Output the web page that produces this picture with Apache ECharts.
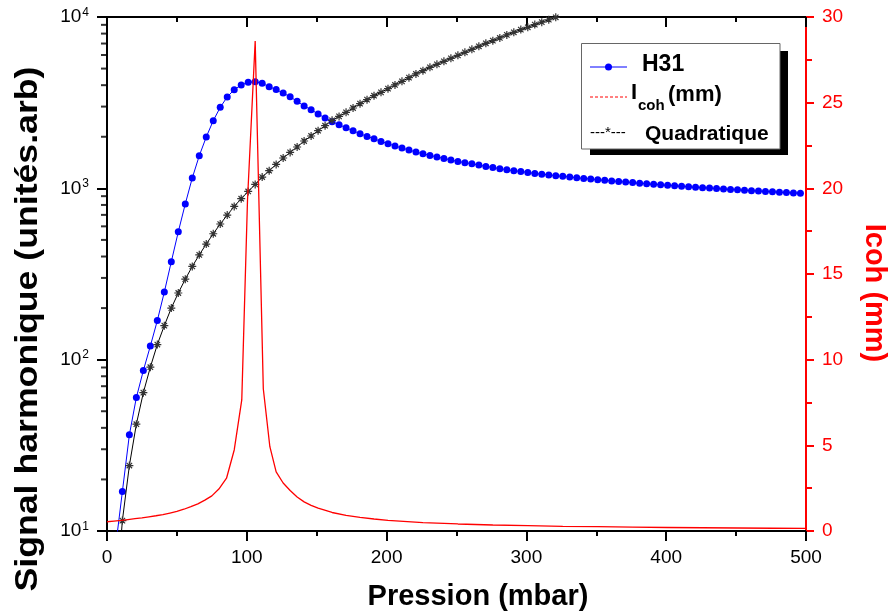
<!DOCTYPE html>
<html><head><meta charset="utf-8">
<script src="https://cdn.jsdelivr.net/npm/echarts@6/dist/echarts.min.js"></script>
<style>html,body{margin:0;padding:0;background:#fff}#c{width:890px;height:615px}</style>
</head><body><div id="c"></div>
<script>
const FONT = "'Liberation Sans', Arial, sans-serif";

// H31 harmonic signal (arb. units), log scale
const h31X = [6,11,16,21,26,31,36,41,46,51,56,61,66,71,76,81,86,91,96,101,106,111,116,121,126,131,136,141,146,151,156,161,166,171,176,181,186,191,196,201,206,211,216,221,226,231,236,241,246,251,256,261,266,271,276,281,286,291,296,301,306,311,316,321,326,331,336,341,346,351,356,361,366,371,376,381,386,391,396,401,406,411,416,421,426,431,436,441,446,451,456,461,466,471,476,481,486,491,496];
const h31Y = [7.9,17.0,36.4,60.1,86.4,120,169,248,373,558,811,1149,1550,1993,2483,2969,3415,3766,4012,4155,4195,4100,3922,3770,3600,3420,3218,3025,2879,2716,2574,2449,2352,2259,2170,2084,2010,1949,1879,1822,1766,1719,1674,1629,1592,1557,1523,1495,1463,1436,1411,1392,1368,1342,1324,1302,1284,1267,1255,1238,1222,1210,1198,1186,1175,1164,1153,1143,1133,1124,1114,1105,1096,1088,1080,1072,1064,1056,1049,1042,1035,1028,1021,1015,1009,1003,997,991,985,980,974,969,964,959,954,949,944,940,935];

// Quadratique
const quadX = [6,11,16,21,26,31,36,41,46,51,56,61,66,71,76,81,86,91,96,101,106,111,116,121,126,131,136,141,146,151,156,161,166,171,176,181,186,191,196,201,206,211,216,221,226,231,236,241,246,251,256,261,266,271,276,281,286,291,296,301,306,311,316,321,326,331];
const quadY = [3.5,11.5,24.1,42.0,64.2,90.4,122.5,158,200,245,295,350,409,473,543,619,698,784,870,959,1054,1164,1267,1379,1503,1621,1743,1889,2021,2170,2321,2493,2630,2776,2944,3120,3293,3474,3633,3818,4012,4211,4426,4651,4863,5084,5293,5510,5738,5973,6219,6476,6743,7021,7279,7549,7860,8141,8441,8707,9029,9330,9640,9960,10290,10630];

// Icoh (mm), right axis
const icohX = [0,5,10,15,20,25,30,35,40,45,50,55,60,65,70,75,80,85.5,91,96.4,100.5,106,111.8,116.5,121,126,131,136,141,146,151,161,171,181,191,201,226,251,276,301,326,351,376,401,426,451,476,500];
const icohY = [0.54,0.58,0.62,0.67,0.72,0.77,0.83,0.89,0.96,1.05,1.14,1.27,1.42,1.58,1.80,2.05,2.45,3.08,4.73,7.65,19.3,28.6,8.3,4.92,3.45,2.8,2.36,1.98,1.70,1.50,1.33,1.08,0.91,0.79,0.70,0.62,0.49,0.41,0.35,0.31,0.275,0.25,0.225,0.205,0.19,0.175,0.16,0.15];

// log-axis minor tick values
const logMinorTicks = [20,30,40,50,60,70,80,90,200,300,400,500,600,700,800,900,2000,3000,4000,5000,6000,7000,8000,9000];

const zip = (xs, ys) => xs.map((x, i) => [x, ys[i]]);
const STAR = 'path://M5,0L5,10M0,5L10,5M1.6,1.6L8.4,8.4M8.4,1.6L1.6,8.4';

const chart = echarts.init(document.getElementById('c'), null, {renderer: 'canvas'});
chart.setOption({
  animation: false,
  backgroundColor: '#fff',
  grid: {left: 107, right: 84, top: 17, bottom: 84},
  xAxis: [{
    type: 'value', min: 0, max: 500, interval: 100, position: 'bottom',
    axisLine: {onZero: false, lineStyle: {color: '#000', width: 2}},
    axisTick: {length: 10, lineStyle: {color: '#000', width: 2}},
    minorTick: {show: true, splitNumber: 2, length: 5, lineStyle: {color: '#000', width: 2}},
    axisLabel: {color: '#000', fontSize: 19, fontFamily: FONT, margin: 17},
    splitLine: {show: false}
  }, {
    type: 'value', min: 0, max: 500, interval: 100, position: 'top',
    axisLine: {onZero: false, lineStyle: {color: '#000', width: 2}},
    axisTick: {inside: true, length: 10, lineStyle: {color: '#000', width: 2}},
    minorTick: {show: true, splitNumber: 2, length: 5, lineStyle: {color: '#000', width: 2}},
    axisLabel: {show: false},
    splitLine: {show: false}
  }],
  yAxis: [{
    type: 'log', logBase: 10, min: 10, max: 10000, position: 'left',
    axisLine: {show: true, onZero: false, lineStyle: {color: '#000', width: 2}},
    axisTick: {show: true, length: 10, lineStyle: {color: '#000', width: 2}},
    axisLabel: {
      margin: 18, fontFamily: FONT, color: '#000',
      formatter: v => '{b|10}{s|' + Math.round(Math.log10(v)) + '}',
      rich: {
        b: {fontSize: 19, fontFamily: FONT, color: '#000'},
        s: {fontSize: 12, fontFamily: FONT, color: '#000', padding: [0, 0, 9, 1]}
      }
    },
    splitLine: {show: false}
  }, {
    type: 'value', min: 0, max: 30, interval: 5, position: 'right',
    axisLine: {show: true, onZero: false, lineStyle: {color: '#ff0000', width: 2}},
    axisTick: {show: true, length: 8, lineStyle: {color: '#ff0000', width: 2}},
    minorTick: {show: true, splitNumber: 2, length: 6, lineStyle: {color: '#ff0000', width: 2}},
    axisLabel: {color: '#ff0000', fontSize: 19, fontFamily: FONT, margin: 16},
    splitLine: {show: false}
  }],
  series: [{
    name: 'logMinorTicks', type: 'scatter', xAxisIndex: 0, yAxisIndex: 0,
    data: logMinorTicks.map(v => [0, v]), symbol: 'rect', symbolSize: [6, 2], symbolOffset: [-3, 0],
    itemStyle: {color: '#000'}, silent: true, clip: false, z: 5
  }, {
    name: 'H31', type: 'line', xAxisIndex: 0, yAxisIndex: 0, data: zip(h31X, h31Y),
    symbol: 'circle', symbolSize: 7, showAllSymbol: true,
    lineStyle: {color: '#0000ff', width: 1}, itemStyle: {color: '#0000ff'}, clip: true, z: 2
  }, {
    name: 'Quadratique', type: 'line', xAxisIndex: 0, yAxisIndex: 0, data: zip(quadX, quadY),
    symbol: STAR, symbolSize: 8, showAllSymbol: true,
    lineStyle: {color: '#000', width: 1}, itemStyle: {color: 'rgba(0,0,0,0)', borderColor: '#333', borderWidth: 1.2}, clip: true, z: 3
  }, {
    name: 'Icoh', type: 'line', xAxisIndex: 0, yAxisIndex: 1, data: zip(icohX, icohY),
    symbol: 'none', lineStyle: {color: '#ff0000', width: 1.3}, clip: true, z: 4
  }],
  graphic: [
    {type: 'text', style: {text: 'Pression (mbar)', x: 478, y: 597, fill: '#000', font: 'bold 29px ' + FONT, align: 'center', verticalAlign: 'middle'}, z: 10},
    {type: 'text', x: 28, y: 329, rotation: Math.PI / 2, scaleX: 1.15, style: {text: 'Signal harmonique (unités.arb)', fill: '#000', font: 'bold 31px ' + FONT, align: 'center', verticalAlign: 'middle'}, z: 10},
    {type: 'text', x: 874, y: 293, rotation: -Math.PI / 2, style: {text: 'Icoh (mm)', fill: '#ff0000', font: 'bold 29px ' + FONT, align: 'center', verticalAlign: 'middle'}, z: 10},
    {type: 'rect', shape: {x: 590, y: 51, width: 198, height: 104}, style: {fill: '#000'}, z: 20},
    {type: 'rect', shape: {x: 581.5, y: 43.5, width: 198.5, height: 105.5}, style: {fill: '#fff', stroke: '#666', lineWidth: 1}, z: 21},
    {type: 'line', shape: {x1: 590, y1: 67, x2: 627, y2: 67}, style: {stroke: '#0000ff', lineWidth: 1}, z: 22},
    {type: 'circle', shape: {cx: 608.5, cy: 67, r: 3.5}, style: {fill: '#0000ff'}, z: 22},
    {type: 'text', style: {text: 'H31', x: 642, y: 65, fill: '#000', font: 'bold 23px ' + FONT, verticalAlign: 'middle'}, z: 22},
    {type: 'line', shape: {x1: 590, y1: 97, x2: 627, y2: 97}, style: {stroke: '#ff0000', lineWidth: 1, lineDash: [3, 2]}, z: 22},
    {type: 'text', style: {text: 'I', x: 631, y: 93, fill: '#000', font: 'bold 22px ' + FONT, verticalAlign: 'middle'}, z: 22},
    {type: 'text', style: {text: 'coh', x: 638, y: 106, fill: '#000', font: 'bold 15px ' + FONT, verticalAlign: 'middle'}, z: 22},
    {type: 'text', style: {text: '(mm)', x: 668, y: 95, fill: '#000', font: 'bold 22px ' + FONT, verticalAlign: 'middle'}, z: 22},
    {type: 'text', style: {text: '---*---', x: 590, y: 133, fill: '#000', font: '15px ' + FONT, verticalAlign: 'middle'}, z: 22},
    {type: 'text', style: {text: 'Quadratique', x: 645, y: 134, fill: '#000', font: 'bold 21px ' + FONT, verticalAlign: 'middle'}, z: 22}
  ]
});
</script>
</body></html>
